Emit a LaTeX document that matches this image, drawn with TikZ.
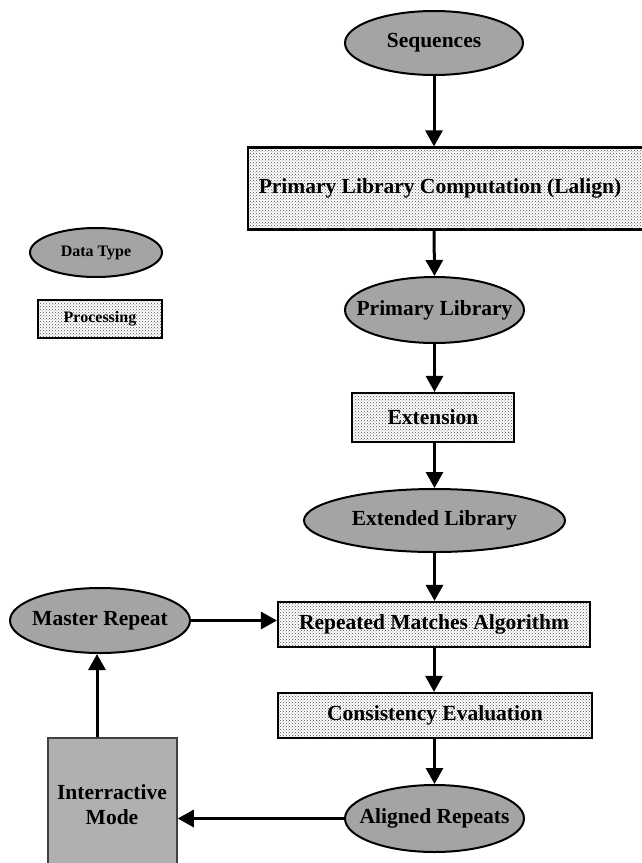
\documentclass[tikz,border=0pt]{standalone}
\usepackage{fontspec}
\setmainfont{Liberation Serif}
\usetikzlibrary{shapes.geometric,arrows.meta,patterns}
\definecolor{ellgray}{HTML}{A4A4A4}
\definecolor{boxgray}{HTML}{B0B0B0}
\begin{document}
\begin{tikzpicture}[x=1pt,y=-1pt,
  datanode/.style={ellipse,draw=black,line width=2pt,fill=ellgray,inner xsep=-25pt,inner ysep=-6pt,
    font=\fontsize{21.5}{24}\selectfont\bfseries},
  procnode/.style={rectangle,draw=black,line width=2.2pt,inner sep=0pt,
    preaction={fill=white},pattern=crosshatch dots,pattern color=black!70,
    font=\fontsize{21.5}{24}\selectfont\bfseries},
  lbl/.style={inner sep=0pt,font=\fontsize{21.5}{24}\selectfont\bfseries},
  legfont/.style={font=\fontsize{16}{19}\selectfont\bfseries},
  flow/.style={line width=3pt,-{Triangle[width=17pt,length=16pt]}}]
\useasboundingbox (0,0) rectangle (642,863);
\clip (0,0) rectangle (642,863);
% legend
\node[datanode,minimum width=132pt,minimum height=49pt,legfont] (legdata) at (96,252.5) {Data Type};
\node[procnode,minimum width=124pt,minimum height=38pt,legfont] (legproc) at (100,319) {Processing};
% main flow
\node[datanode,minimum width=178pt,minimum height=64pt] (seq) at (434,43) {Sequences};
\node[procnode,minimum width=403pt,minimum height=82pt] (plc) at (449.5,188.5) {};
\node[lbl] (plctext) at (440,188.5) {Primary Library Computation (Lalign)};
\node[datanode,minimum width=179pt,minimum height=66pt] (pl) at (434.5,310) {Primary Library};
\node[procnode,minimum width=162pt,minimum height=49pt] (ext) at (433,417.5) {Extension};
\node[datanode,minimum width=261pt,minimum height=63pt] (extlib) at (434.5,520.5) {Extended Library};
\node[procnode,minimum width=312pt,minimum height=45pt] (rma) at (434,624.5) {Repeated Matches Algorithm};
\node[datanode,minimum width=180pt,minimum height=65pt] (master) at (100,620.5) {Master Repeat};
\node[procnode,minimum width=314pt,minimum height=45pt] (cons) at (435,715.5) {Consistency Evaluation};
\node[datanode,minimum width=179pt,minimum height=67pt] (aligned) at (434.5,818.5) {Aligned Repeats};
\node[rectangle,draw=black!75,line width=1.5pt,fill=boxgray,minimum width=129pt,minimum height=150pt] (inter) at (112.5,813) {};
\node[lbl,align=center,font=\fontsize{21.5}{25}\selectfont\bfseries] (intertext) at (112,805) {Interractive\\Mode};
% connectors
\draw[flow] (seq.south) -- (seq.south |- plc.north);
\draw[flow] (seq.south |- plc.south) -- (pl.north);
\draw[flow] (pl.south) -- (pl.south |- ext.north);
\draw[flow] (ext.south) -- (ext.south -| extlib.north) -- (extlib.north);
\draw[flow] (extlib.south) -- (extlib.south |- rma.north);
\draw[flow] (master.east) -- (master.east -| rma.west);
\draw[flow] (rma.south) -- (rma.south |- cons.north);
\draw[flow] (cons.south -| aligned.north) -- (aligned.north);
\draw[flow] (aligned.west) -- (aligned.west -| inter.east);
\draw[flow] (master.south |- inter.north) ++(-3,0) coordinate (iup) -- (iup |- master.south);
\end{tikzpicture}
\end{document}
